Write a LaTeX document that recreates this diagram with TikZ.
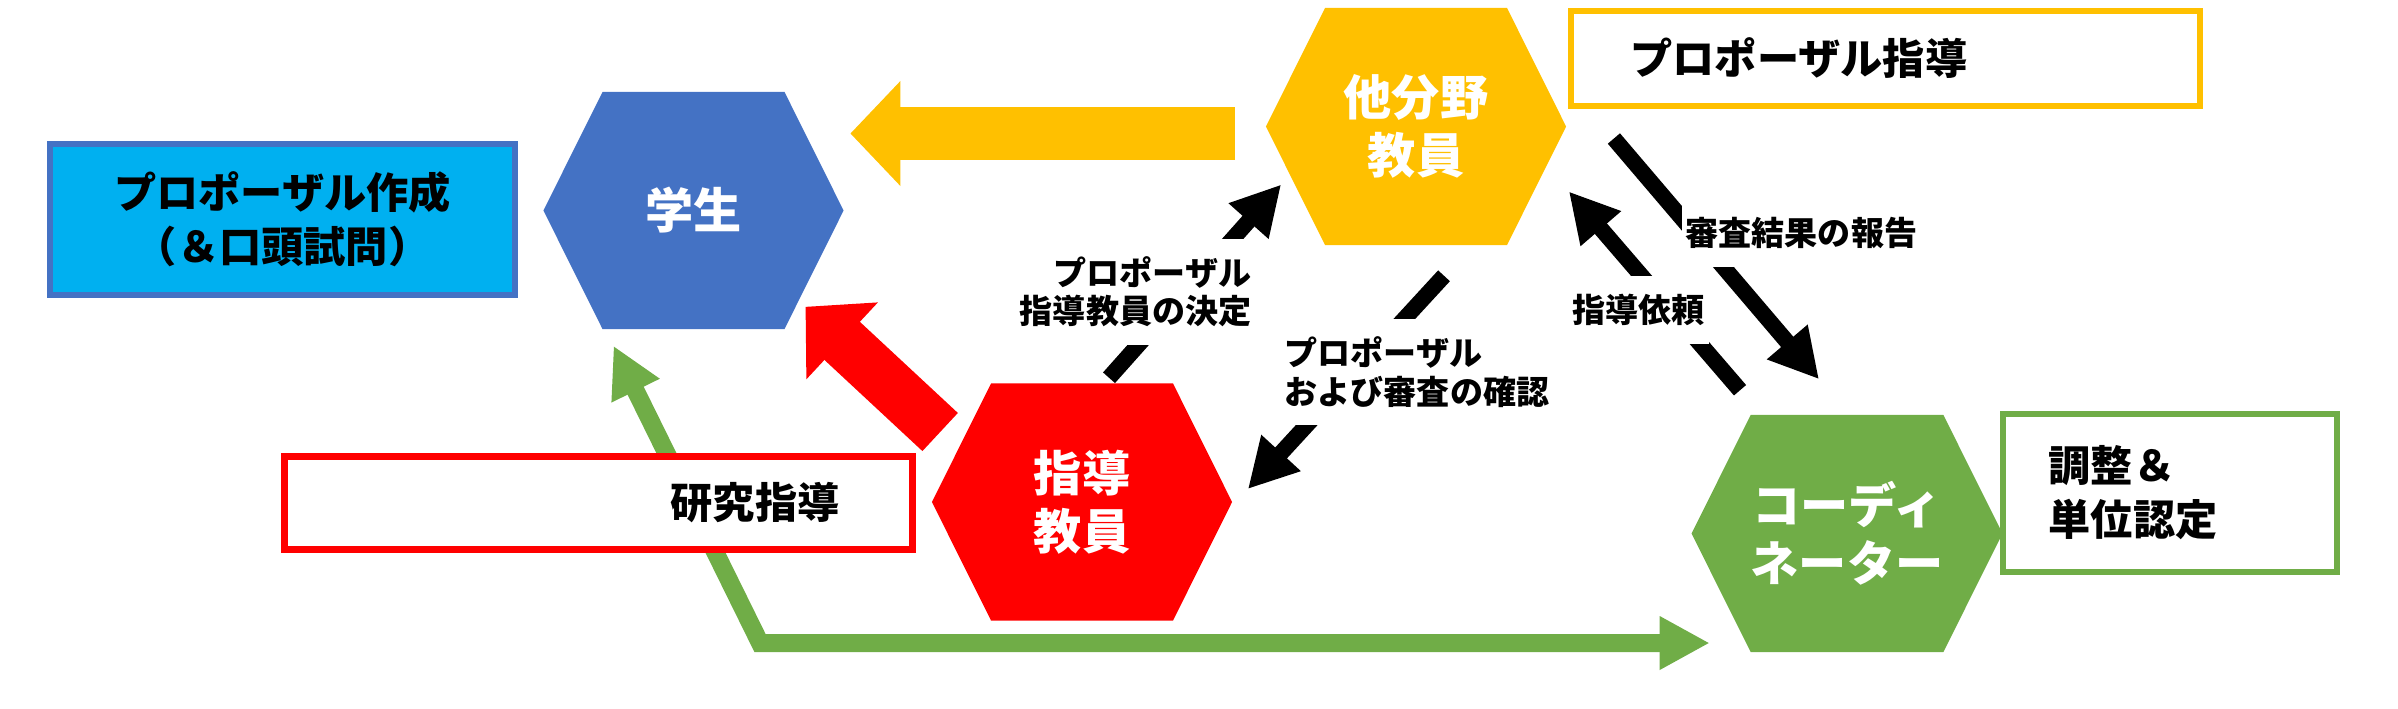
\documentclass[tikz,border=0pt]{standalone}
\usepackage{fontspec}
\setmainfont{Noto Sans CJK JP}
\usetikzlibrary{arrows.meta, positioning, shapes.symbols, calc, backgrounds}

\definecolor{hexblue}{HTML}{4472C4}
\definecolor{boxcyan}{HTML}{00B0F0}
\definecolor{hexyellow}{HTML}{FFC000}
\definecolor{hexred}{HTML}{FF0000}
\definecolor{hexgreen}{HTML}{70AD47}

\newcommand{\hexfont}{\fontsize{13.7pt}{16.5pt}\selectfont\bfseries}
\newcommand{\boxfont}{\fontsize{12pt}{15.4pt}\selectfont\bfseries}
\newcommand{\lblfont}{\fontsize{9.4pt}{10.9pt}\selectfont\bfseries}

\begin{document}
\begin{tikzpicture}[
        x=0.01cm, y=-0.01cm,
        hexa/.style={signal, signal to=east and west, signal pointer angle=127,
            minimum width=3cm, minimum height=2.37cm, inner sep=0pt,
            text=white, align=center, font=\hexfont},
        frame/.style={draw, line width=0.06cm, fill=white},
        boxtxt/.style={inner sep=0pt, align=left, font=\boxfont},
        lbl/.style={fill=white, inner xsep=0.04cm, inner ysep=0.18cm, font=\lblfont},
        blockarr/.style={line width=0.52cm, -{Triangle[length=0.5cm, width=1.02cm]}},
        blkarr/.style={line width=0.16cm, -{Triangle[length=0.49cm, width=0.5cm]}},
        garr/.style={hexgreen, line width=0.18cm,
            {Triangle[length=0.5cm, width=0.5cm]}-{Triangle[length=0.5cm, width=0.5cm]}},
    ]
    \useasboundingbox (0,0) rectangle (2398,708);

    %% ===== Hexagons =====
    \node[hexa, fill=hexblue] (stu) at (693.5,210.5) {学生};
    \node[hexa, fill=hexyellow] (oth) at (1416,126.5) {他分野\\教員};
    \node[hexa, fill=hexred] (sup) at (1082,502) {指導\\教員};
    \node[hexa, fill=hexgreen] (crd) at (1847,533.5) {コーディ\\ネーター};

    %% ===== Boxes =====
    \node[frame, draw=hexblue, fill=boxcyan, minimum width=4.65cm, minimum height=1.51cm,
        align=center, font=\boxfont] (make) at (282.5,219.5) {プロポーザル作成\\（＆口頭試問）};

    \node[frame, draw=hexyellow, minimum width=6.29cm, minimum height=0.95cm] (pguide) at (1885.5,58.5) {};
    \node[boxtxt, right=0.62cm of pguide.west] (pguide_txt) {プロポーザル指導};

    \node[frame, draw=hexred, line width=0.07cm, minimum width=6.28cm, minimum height=0.93cm] (rguide) at (598.5,503) {};
    \node[boxtxt, left=0.76cm of rguide.east] (rguide_txt) {研究指導};

    \node[frame, draw=hexgreen, minimum width=3.34cm, minimum height=1.58cm] (credit) at (2170,493) {};
    \node[boxtxt, right=0.48cm of credit.west] (credit_txt) {調整＆\\単位認定};

    %% ===== Arrow labels =====
    \node[lbl, anchor=east, align=right] (l_dec) at (1256,292) {プロポーザル\\指導教員の決定};
    \node[lbl, anchor=west, align=left] (l_chk) at (1280,372) {プロポーザル\\および審査の確認};
    \node[lbl, anchor=west] (l_rep) at (1681,233) {審査結果の報告};
    \node[lbl, anchor=west] (l_req) at (1568,310) {指導依頼};

    \coordinate (gturn) at (760,643);

    %% ===== Arrows =====
    \begin{scope}[on background layer]
        \draw[blockarr, hexyellow] ($(oth.west)+(-30,7)$) -- ($(oth.west -| stu.east)+(6,7)$);
        \draw[blockarr, hexred] ($(sup.west)+(9,-70)$) -- ($(stu.south)+(112,-23)$);
        \draw[garr] ($(stu.south)+(-80,16)$) -- (gturn) -- ($(gturn -| crd.west)+(19,0)$);

        \draw[blkarr] ($(sup.north)+(27,-5)$) -- ($(oth.west)+(16,58)$);
        \draw[blkarr] ($(oth.south)+(28,30)$) -- ($(sup.east)+(15,-13)$);
        \draw[blkarr] ($(oth.east)+(47,12)$) -- ($(crd.north)+(-28,-35)$);
        \draw[blkarr] ($(crd.north)+(-107,-24)$) -- ($(oth.east)+(2,65)$);
    \end{scope}

\end{tikzpicture}
\end{document}
